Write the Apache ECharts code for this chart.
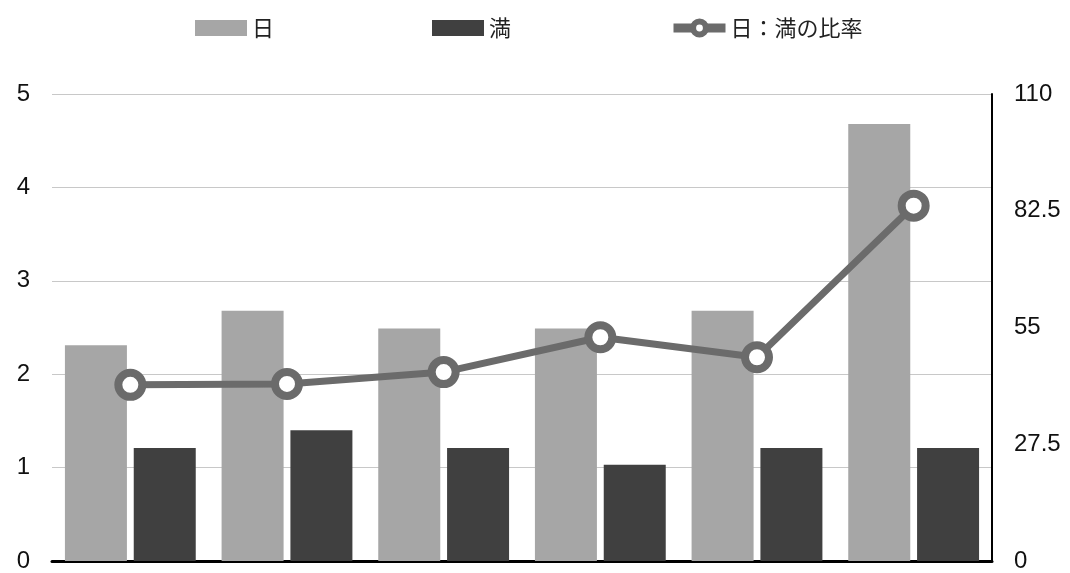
<!DOCTYPE html>
<html><head><meta charset="utf-8">
<script src="https://cdn.jsdelivr.net/npm/echarts@6/dist/echarts.min.js"></script>
<style>html,body{margin:0;padding:0;background:#fff}#c{width:1070px;height:573px}</style>
</head><body><div id="c"></div>
<script>
const categories = ['1','2','3','4','5','6'];
const hiValues = [2.31, 2.68, 2.49, 2.49, 2.68, 4.68];
const manValues = [1.21, 1.40, 1.21, 1.03, 1.21, 1.21];
const ratioValues = [41.5, 41.7, 44.5, 52.7, 48.0, 83.7];
const seriesNames = ['日', '満', '日：満の比率'];

const chart = echarts.init(document.getElementById('c'), null, {renderer:'canvas'});
const labelFont = {fontFamily:'Liberation Sans, Arial, sans-serif', fontSize:24, color:'#111'};
chart.setOption({
  animation:false,
  backgroundColor:'#fff',
  legend:{
    top:12, left:190, itemWidth:52, itemHeight:16, itemGap:158,
    textStyle:{fontFamily:'Noto Sans CJK JP', fontSize:22, color:'#222'},
    data:[
      {name:seriesNames[0], icon:'rect'},
      {name:seriesNames[1], icon:'rect'},
      {name:seriesNames[2], itemStyle:{color:'#fff', borderColor:'#6b6b6b', borderWidth:6}, lineStyle:{width:9, color:'#6b6b6b'}}
    ]
  },
  grid:{left:52, right:78, top:94, bottom:11},
  xAxis:{
    type:'category', data:categories,
    axisLine:{lineStyle:{color:'#000', width:3}},
    axisTick:{show:false}, axisLabel:{show:false}
  },
  yAxis:[
    {type:'value', min:0, max:5, interval:1,
     axisLine:{show:false}, axisTick:{show:false},
     axisLabel:Object.assign({margin:22}, labelFont),
     splitLine:{lineStyle:{color:'#c8c8c8', width:1}}},
    {type:'value', min:0, max:110, interval:27.5, position:'right',
     axisLine:{show:true, lineStyle:{color:'#000', width:2}}, axisTick:{show:false},
     axisLabel:Object.assign({margin:22}, labelFont),
     splitLine:{show:false}}
  ],
  series:[
    {name:seriesNames[0], type:'bar', data:hiValues, barWidth:62, barGap:'11%',
     itemStyle:{color:'#a6a6a6'}},
    {name:seriesNames[1], type:'bar', data:manValues, barWidth:62,
     itemStyle:{color:'#404040'}},
    {name:seriesNames[2], type:'line', yAxisIndex:1, data:ratioValues,
     symbol:'circle', symbolSize:24, z:5,
     lineStyle:{color:'#6b6b6b', width:7},
     itemStyle:{color:'#fff', borderColor:'#6b6b6b', borderWidth:8}}
  ]
});
</script></body></html>
